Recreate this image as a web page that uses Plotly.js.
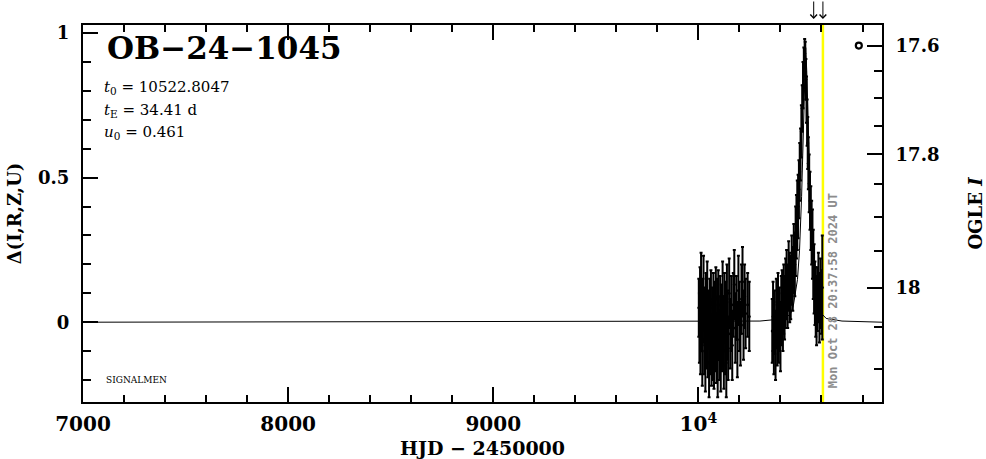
<!DOCTYPE html>
<html>
<head>
<meta charset="utf-8">
<script src="https://cdn.plot.ly/plotly-3.0.1.min.js"></script>
<style>html,body{margin:0;padding:0;background:#fff;}#plot{width:986px;height:459px;}</style>
</head>
<body>
<div id="plot"></div>
<script>
// ---- Data ----
// Observation season 1 (HJD-2450000, Δ, error)
const t1 = [10002,10005,10008,10010,10013,10016,10019,10022,10025,10028,10031,10034,10037,10040,10043,10046,10049,10052,10055,10058,10061,10064,10067,10070,10073,10076,10079,10082,10085,10088,10091,10094,10097,10100,10103,10106,10109,10112,10115,10118,10121,10124,10127,10130,10133,10136,10139,10142,10145,10150,10155,10160,10165,10170,10175,10180,10185,10190,10195,10200,10205,10210,10215,10220,10225,10230,10240,10248];
const d1 = [0.05,-0.02,0.08,-0.05,0.12,0.00,-0.10,0.04,0.10,-0.06,0.02,-0.12,0.06,-0.03,0.09,-0.08,0.01,-0.14,0.03,-0.05,0.07,-0.10,0.00,-0.07,0.05,-0.12,0.02,-0.04,0.08,-0.09,0.03,-0.13,0.06,-0.02,-0.08,0.04,-0.11,0.01,-0.06,0.09,-0.03,-0.10,0.05,-0.07,0.02,-0.14,0.07,-0.01,-0.09,0.10,-0.04,0.03,-0.08,0.06,0.13,-0.02,0.05,-0.06,0.11,0.02,-0.04,0.08,0.14,-0.01,0.09,0.03,0.06,0.02];
const e1 = [0.10,0.12,0.11,0.13,0.12,0.10,0.12,0.11,0.13,0.12,0.10,0.12,0.11,0.13,0.12,0.11,0.10,0.12,0.12,0.13,0.11,0.12,0.12,0.13,0.12,0.11,0.12,0.13,0.11,0.12,0.12,0.13,0.12,0.11,0.12,0.12,0.13,0.12,0.11,0.12,0.12,0.13,0.12,0.11,0.12,0.12,0.13,0.12,0.11,0.12,0.12,0.13,0.12,0.11,0.12,0.12,0.11,0.13,0.12,0.12,0.11,0.12,0.12,0.12,0.11,0.12,0.11,0.12];
// Observation season 2 (baseline + rise, peak and fall)
const t2 = [10360,10364,10368,10372,10376,10380,10384,10388,10392,10396,10400,10404,10408,10412,10416,10420,10425,10430,10435,10440,10445,10450,10455,10460,10465,10470,10474,10478,10482,10486,10490,10494,10498,10502,10506,10510,10514,10518,10521,10524,10527,10530,10533,10536,10540,10544,10548,10552,10556,10560,10564,10568,10572,10576,10580,10585,10590,10595,10600,10604];
const d2 = [-0.03,0.02,-0.06,0.00,-0.08,0.03,-0.04,0.05,-0.02,0.01,-0.05,0.04,0.07,0.02,0.08,0.05,0.10,0.13,0.09,0.16,0.12,0.12,0.18,0.15,0.22,0.20,0.28,0.33,0.37,0.40,0.46,0.52,0.58,0.66,0.74,0.82,0.88,0.93,0.91,0.84,0.77,0.69,0.62,0.55,0.48,0.42,0.36,0.31,0.27,0.20,0.15,0.10,0.07,0.04,0.08,0.12,0.05,0.10,0.07,0.12];
const e2 = [0.11,0.12,0.12,0.11,0.12,0.12,0.11,0.12,0.12,0.11,0.12,0.12,0.11,0.12,0.12,0.11,0.12,0.12,0.11,0.12,0.12,0.11,0.12,0.11,0.12,0.11,0.12,0.11,0.12,0.11,0.10,0.10,0.09,0.09,0.08,0.08,0.07,0.05,0.06,0.07,0.08,0.08,0.09,0.09,0.10,0.10,0.11,0.11,0.12,0.12,0.12,0.11,0.12,0.12,0.11,0.12,0.12,0.12,0.11,0.18];
// Model curve
const modelT = [7000,10300,10360,10400,10423,10450,10463,10483,10493,10503,10513,10518,10523,10528,10533,10543,10553,10563,10583,10600,10623,10700,10895];
const modelD = [0,0.004,0.008,0.012,0.013,0.03,0.058,0.148,0.249,0.434,0.733,0.87,0.95,0.87,0.733,0.434,0.249,0.148,0.058,0.03,0.013,0.004,0];
// Axis ticks
const xTickVals = [7000,8000,9000,10000];
const xTickText = ['7000','8000','9000','10<sup>4</sup>'];
const yTickVals = [0,0.5,1];
const yTickText = ['0','0.5','1'];
const magTickVals = [0.957,0.581,0.119];
const magTickText = ['17.6','17.8','18'];
const magMinorVals = [0.870,0.777,0.680,0.477,0.364,0.248,-0.015,-0.162];
// Markers / labels
const nowT = 10607;
const arrowT = [10562,10607];
const symbolT = [10782];
const symbolD = [0.957];
const xRange = [7000,10895];
const yRange = [-0.276,1.028];

const serif = 'DejaVu Serif, Liberation Serif, serif';
const errStyle = {type:'data', visible:true, color:'#000', thickness:2, width:1.5};

const traces = [
  {x:modelT, y:modelD, mode:'lines', line:{color:'#000', width:1}, hoverinfo:'skip'},
  {x:t1, y:d1, mode:'markers', marker:{color:'#000', size:3},
   error_y:Object.assign({array:e1}, errStyle)},
  {x:t2, y:d2, mode:'markers', marker:{color:'#000', size:3},
   error_y:Object.assign({array:e2}, errStyle)},
  {x:symbolT, y:symbolD, mode:'markers',
   marker:{symbol:'circle-open', size:6, color:'#000', line:{width:2.2, color:'#000'}}},
  {x:[xRange[0]], y:[0], yaxis:'y2', mode:'markers', marker:{opacity:0}, hoverinfo:'skip'}
];

const annotations = [
  {xref:'paper', yref:'paper', x:0.027, y:0.992, xanchor:'left', yanchor:'top', showarrow:false,
   text:'OB\u221224\u22121045', font:{family:serif, size:31, color:'#000', weight:'bold'}},
  {xref:'paper', yref:'paper', x:0.024, y:0.8355, xanchor:'left', yanchor:'middle', showarrow:false,
   text:'<i>t</i><sub>0</sub> = 10522.8047', font:{family:serif, size:15, color:'#000'}},
  {xref:'paper', yref:'paper', x:0.024, y:0.7745, xanchor:'left', yanchor:'middle', showarrow:false,
   text:'<i>t</i><sub>E</sub> = 34.41 d', font:{family:serif, size:15, color:'#000'}},
  {xref:'paper', yref:'paper', x:0.024, y:0.716, xanchor:'left', yanchor:'middle', showarrow:false,
   text:'<i>u</i><sub>0</sub> = 0.461', font:{family:serif, size:15, color:'#000'}},
  {xref:'paper', yref:'paper', x:0.026, y:0.058, xanchor:'left', yanchor:'middle', showarrow:false,
   text:'SIGNALMEN', font:{family:serif, size:9, color:'#000'}},
  {xref:'paper', yref:'paper', x:0.9387, y:0.03, xanchor:'center', yanchor:'bottom', showarrow:false,
   textangle:-90, text:'Mon Oct 28 20:37:58 2024 UT',
   font:{family:'DejaVu Sans Mono, Liberation Mono, monospace', size:12, color:'#8c8c8c', weight:'bold'}}
];
arrowT.forEach(function(t){
  annotations.push({x:t, xref:'x', y:1.016, yref:'paper', ax:0, ay:-19, axref:'pixel', ayref:'pixel',
    text:'', showarrow:true, arrowhead:4, arrowsize:1.3, arrowwidth:1, arrowcolor:'#000'});
});

const axisCommon = {showgrid:false, zeroline:false, showline:true, linewidth:2, linecolor:'#000',
  ticks:'inside', ticklen:15, tickwidth:2, tickcolor:'#000'};

const layout = {
  width:986, height:459,
  margin:{l:83, r:104, t:25, b:57},
  paper_bgcolor:'#fff', plot_bgcolor:'#fff',
  showlegend:false,
  xaxis:Object.assign({}, axisCommon, {
    range:xRange, mirror:'ticks', tickmode:'array', tickvals:xTickVals, ticktext:xTickText,
    tickfont:{family:serif, size:20, color:'#000', weight:'bold'}, ticklabelstandoff:3,
    minor:{tick0:7000, dtick:200, ticks:'inside', ticklen:7, tickwidth:2, tickcolor:'#000'},
    title:{text:'HJD \u2212 2450000', font:{family:serif, size:19, color:'#000', weight:'bold'}, standoff:7}
  }),
  yaxis:Object.assign({}, axisCommon, {
    range:yRange, mirror:false, tickmode:'array', tickvals:yTickVals, ticktext:yTickText,
    tickfont:{family:serif, size:18, color:'#000', weight:'bold'}, ticklabelstandoff:8,
    minor:{tick0:0, dtick:0.1, ticks:'inside', ticklen:8, tickwidth:2, tickcolor:'#000'},
    title:{text:'\u0394(I,R,Z,U)', font:{family:serif, size:18, color:'#000', weight:'bold'}, standoff:12}
  }),
  yaxis2:Object.assign({}, axisCommon, {
    range:yRange, overlaying:'y', side:'right', tickmode:'array', tickvals:magTickVals, ticktext:magTickText,
    tickfont:{family:serif, size:18, color:'#000', weight:'bold'}, ticklabelstandoff:8,
    minor:{tickmode:'array', tickvals:magMinorVals, ticks:'inside', ticklen:8, tickwidth:2, tickcolor:'#000'},
    title:{text:'OGLE <i>I</i>', font:{family:serif, size:18, color:'#000', weight:'bold'}, standoff:38}
  }),
  shapes:[
    {type:'line', xref:'x', yref:'paper', x0:nowT, x1:nowT, y0:0, y1:1, layer:'below',
     line:{color:'#ffff00', width:2.5}}
  ],
  annotations:annotations
};

Plotly.newPlot('plot', traces, layout, {staticPlot:true, displayModeBar:false});
</script>
</body>
</html>
